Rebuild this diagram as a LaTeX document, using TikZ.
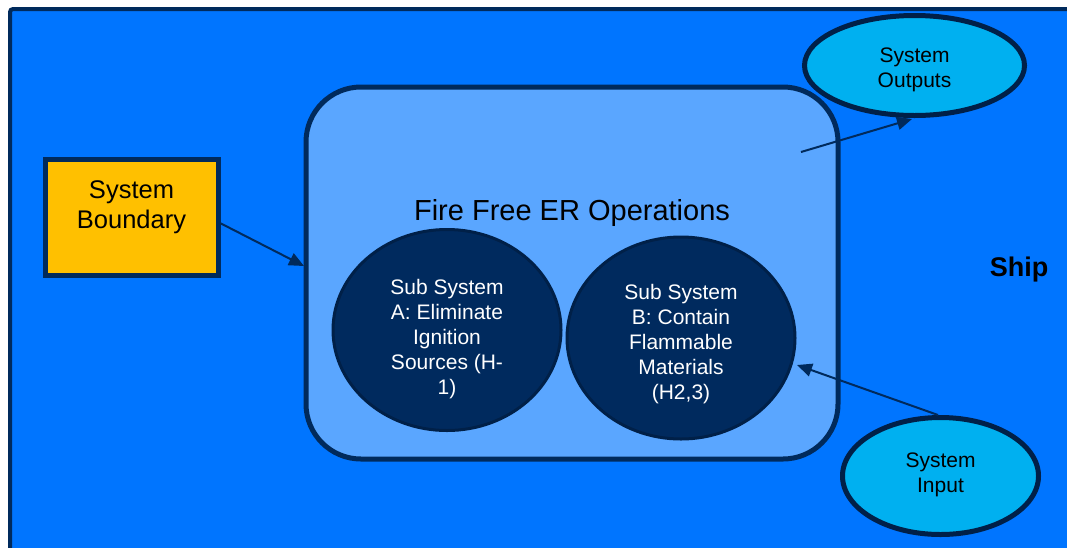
\documentclass[tikz,border=0pt]{standalone}
\usepackage{fontspec}
\setmainfont{Liberation Sans}
\usetikzlibrary{arrows.meta,shapes.geometric,calc}

\definecolor{shipblue}{RGB}{0,117,255}
\definecolor{navy}{RGB}{0,42,92}
\definecolor{navyline}{RGB}{0,32,72}
\definecolor{opsblue}{RGB}{90,166,255}
\definecolor{subfill}{RGB}{0,42,94}
\definecolor{ioblue}{RGB}{0,176,240}
\definecolor{boxyellow}{RGB}{255,192,0}

\tikzset{
  frame/.style={draw=navy, line width=4pt, fill=shipblue, rounded corners=3pt},
  boundbox/.style={draw=navy, line width=5pt, fill=boxyellow, rectangle,
    minimum width=173pt, minimum height=116pt, inner sep=0pt},
  opsbox/.style={draw=navy, line width=5pt, fill=opsblue, rectangle,
    rounded corners=55pt, minimum width=532pt, minimum height=372pt, inner sep=0pt},
  subsys/.style={ellipse, draw=navyline, line width=3pt, fill=subfill, inner sep=0pt},
  subtext/.style={text=white, align=center, inner sep=0pt,
    font=\fontsize{21pt}{25pt}\selectfont},
  iobubble/.style={ellipse, draw=navyline, line width=5pt, fill=ioblue, inner sep=0pt},
  iotext/.style={text=black, align=center, inner sep=0pt,
    font=\fontsize{21pt}{25pt}\selectfont},
  flow/.style={draw=navy, line width=2pt,
    -{Triangle[length=15pt, width=13pt]}},
}

\begin{document}
\begin{tikzpicture}[x=1pt, y=-1pt]
  \useasboundingbox (0,0) rectangle (1067,547);
  \clip (0,0) rectangle (1067,547);

  % ship environment
  \draw[frame] (10,9) rectangle (1100,580);
  \node[font=\bfseries\fontsize{27pt}{32pt}\selectfont] (ship) at (1019,270) {Ship};

  % system boundary legend box
  \node[boundbox] (bnd) at (131.5,217) {};
  \node[align=center, font=\fontsize{25.5pt}{30pt}\selectfont] (bndtext) at (131.5,207) {System\\Boundary};

  % fire free engine room operations
  \node[opsbox] (ops) at (572,273) {};
  \node[font=\fontsize{29pt}{34pt}\selectfont] (opstitle) at (572,213) {Fire Free ER Operations};

  % sub systems
  \node[subsys, minimum width=228pt, minimum height=201pt] (suba) at (447,330) {};
  \node[subtext] (suba text) at (447,339)
    {Sub System\\A: Eliminate\\Ignition\\Sources (H-\\1)};
  \node[subsys, minimum width=228pt, minimum height=202pt] (subb) at (681,338) {};
  \node[subtext] (subb text) at (681,344)
    {Sub System\\B: Contain\\Flammable\\Materials\\(H2,3)};

  % inputs and outputs
  \node[iobubble, minimum width=220pt, minimum height=100pt] (outs) at (914.5,65.5) {};
  \node[iotext] (outs text) at (914.5,69.5) {System\\Outputs};
  \node[iobubble, minimum width=196pt, minimum height=117pt] (inp) at (940.5,476) {};
  \node[iotext] (inp text) at (940.5,475) {System\\Input};

  % connectors
  \coordinate (bndout) at (220,223);
  \coordinate (opsin) at (304,266);
  \coordinate (opsout) at (801,152);
  \coordinate (outsin) at (912,119);
  \coordinate (inpout) at (938,415);
  \coordinate (subbin) at (797,365);
  \draw[flow] (bndout) -- (opsin);
  \draw[flow] (opsout) -- (outsin);
  \draw[flow] (inpout) -- (subbin);
\end{tikzpicture}
\end{document}
